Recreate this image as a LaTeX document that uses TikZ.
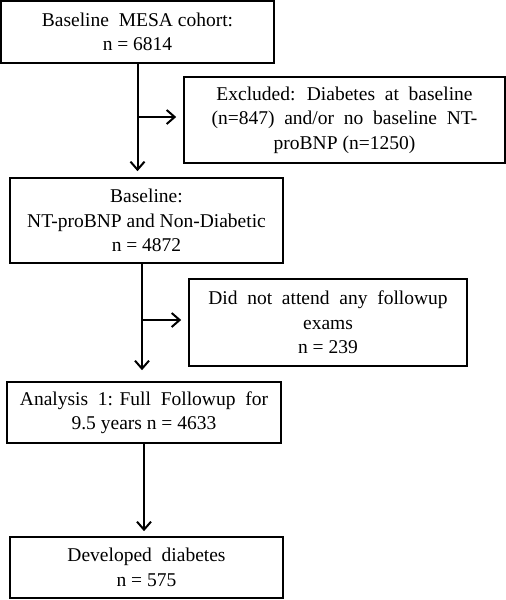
\documentclass[tikz,border=0pt]{standalone}
\usepackage{fontspec}
\setmainfont{Liberation Serif}
\usetikzlibrary{arrows.meta}
\begin{document}
\begin{tikzpicture}[x=1pt,y=-1pt,
  box/.style={draw,line width=1.6pt,align=center,inner sep=0pt,
    font=\fontsize{19.5}{24.5}\selectfont},
  flow/.style={line width=2pt,-{Straight Barb[length=8pt,width=14pt,line width=2pt]}}]
\useasboundingbox (0,0) rectangle (506,600);
\node[box,minimum width=273pt,minimum height=62pt] (b1) at (137.5,32) {Baseline~ MESA cohort:\\n = 6814};
\node[box,minimum width=321pt,minimum height=86pt] (b2) at (344.5,120) {Excluded:~ Diabetes~ at~ baseline\\(n=847)~ and/or~ no~ baseline~ NT-\\proBNP (n=1250)};
\node[box,minimum width=273pt,minimum height=85pt] (b3) at (146.5,220.5) {Baseline:\\NT-proBNP and Non-Diabetic\\n = 4872};
\node[box,minimum width=278pt,minimum height=87pt] (b4) at (328,322.5) {Did~ not~ attend~ any~ followup\\exams\\n = 239};
\node[box,minimum width=274pt,minimum height=61pt] (b5) at (144,412.5) {Analysis~ 1: Full~ Followup~ for\\9.5 years n = 4633};
\node[box,minimum width=273pt,minimum height=61pt] (b6) at (146.5,567.5) {Developed~ diabetes\\n = 575};
\coordinate (c1) at (137.5,117);
\coordinate (c2) at (142,320);
\draw[flow,shorten >=6pt] (b1.south) -- (b1.south |- b3.north);
\draw[flow,shorten >=7pt] (c1) -- (c1 -| b2.west);
\draw[flow,shorten >=11pt] (c2 |- b3.south) -- (c2 |- b5.north);
\draw[flow,shorten >=7pt] (c2) -- (c2 -| b4.west);
\draw[flow,shorten >=5pt] (b5.south) -- (b5.south |- b6.north);
\end{tikzpicture}
\end{document}
